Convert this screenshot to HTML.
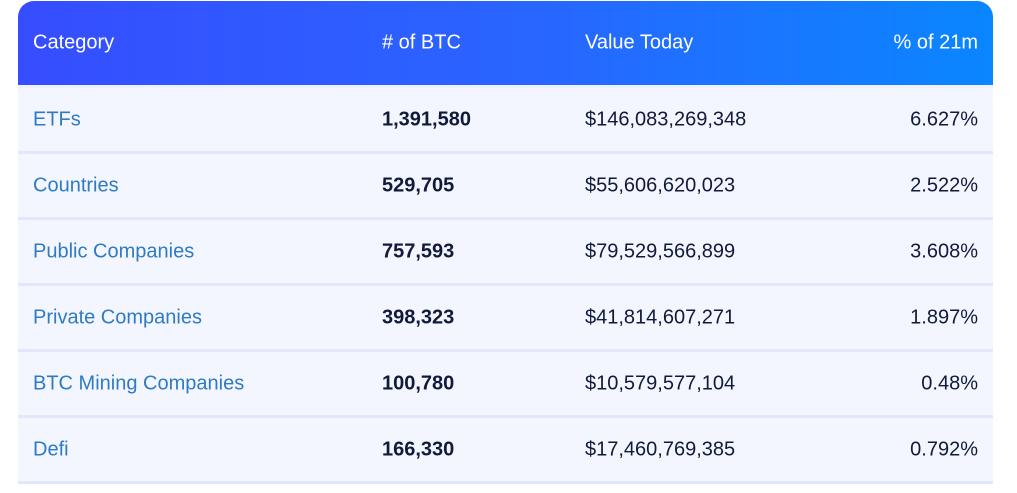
<!DOCTYPE html>
<html><head><meta charset="utf-8"><style>
body{margin:0;width:1017px;height:493px;background:#fff;font-family:"Liberation Sans",sans-serif;overflow:hidden}
.tbl{position:absolute;left:18px;top:1px;width:975px}
.hdr{height:84px;border-radius:16px 16px 0 0;background:linear-gradient(90deg,#364dff 0%,#2a64ff 50%,#0a86ff 100%);position:relative;color:#fff;font-size:20px}
.row{height:63px;border-top:3px solid #e3e7fb;background:#f3f6ff;position:relative;font-size:20px;color:#121a3a}
.row.first{border-top-color:#eef1fd}
.row.last{border-bottom:3px solid #e3e7fb}
.c{position:absolute;top:50%;transform:translateY(-50%);white-space:nowrap}
.c1{left:15px}.c2{left:364px}.c3{left:567px}.c4{right:15px}
.row .c1{color:#2f7bc3}
.row .c2{font-weight:bold}
</style></head><body>
<div class="tbl">
<div class="hdr">
<span class="c c1">Category</span>
<span class="c c2"># of BTC</span>
<span class="c c3">Value Today</span>
<span class="c c4">% of 21m</span>
</div>
<div class="row first"><span class="c c1">ETFs</span><span class="c c2">1,391,580</span><span class="c c3">$146,083,269,348</span><span class="c c4">6.627%</span></div>
<div class="row"><span class="c c1">Countries</span><span class="c c2">529,705</span><span class="c c3">$55,606,620,023</span><span class="c c4">2.522%</span></div>
<div class="row"><span class="c c1">Public Companies</span><span class="c c2">757,593</span><span class="c c3">$79,529,566,899</span><span class="c c4">3.608%</span></div>
<div class="row"><span class="c c1">Private Companies</span><span class="c c2">398,323</span><span class="c c3">$41,814,607,271</span><span class="c c4">1.897%</span></div>
<div class="row"><span class="c c1">BTC Mining Companies</span><span class="c c2">100,780</span><span class="c c3">$10,579,577,104</span><span class="c c4">0.48%</span></div>
<div class="row last"><span class="c c1">Defi</span><span class="c c2">166,330</span><span class="c c3">$17,460,769,385</span><span class="c c4">0.792%</span></div>
</div>
</body></html>
